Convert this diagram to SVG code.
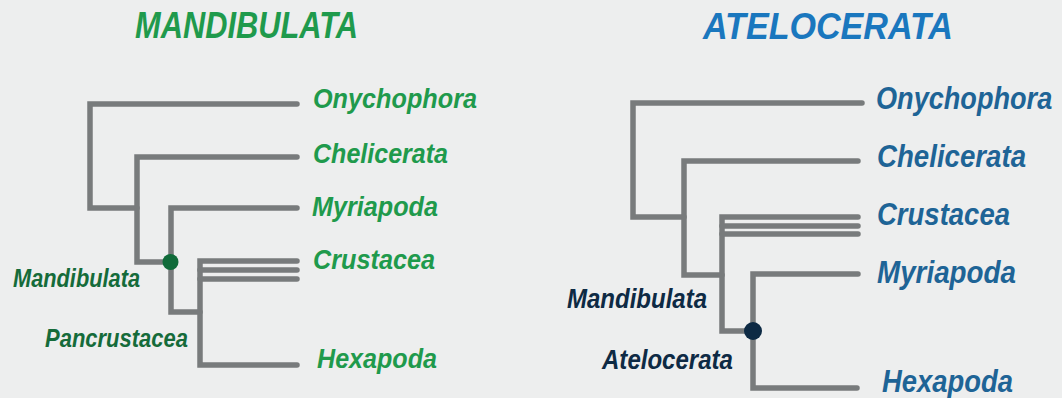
<svg xmlns="http://www.w3.org/2000/svg" width="1062" height="398" viewBox="0 0 1062 398">
<style>
text{font-family:"Liberation Sans",Arial,sans-serif;font-weight:bold;font-style:italic}
.br{fill:none;stroke:#787b7c;stroke-width:5.5;stroke-linecap:round;stroke-linejoin:miter}
.tg{fill:#1f9a4c;font-size:28px}
.tb{fill:#1e6496;font-size:31px}
.ng{fill:#156b3a;font-size:26px}
.nb{fill:#0e2a44;font-size:27px}
</style>
<rect width="1062" height="398" fill="#edeeee"/>
<text x="135" y="38" fill="#1f9a4c" font-size="36" textLength="223" lengthAdjust="spacingAndGlyphs">MANDIBULATA</text>
<text x="703" y="39" fill="#1a77be" font-size="37" textLength="250" lengthAdjust="spacingAndGlyphs">ATELOCERATA</text>
<g id="connectors">
<path class="br" d="M297,104 H90 V208 H137"/>
<path class="br" d="M297,157 H137 V262 H171"/>
<path class="br" d="M297,208 H171 V312 H200"/>
<path class="br" d="M297,261 H200 V365 H297"/>
<path class="br" d="M200,270 H297 M200,279 H297"/>
<path class="br" d="M862,103 H633 V217 H684"/>
<path class="br" d="M858,161 H684 V275 H722"/>
<path class="br" d="M858,217 H722 V331 H753"/>
<path class="br" d="M722,226 H858 M722,234 H858"/>
<path class="br" d="M858,274 H753 V388 H857"/>
</g>
<g id="node-mandibulata-left"><circle cx="170.5" cy="262" r="8" fill="#106b3a"/><text class="ng" x="13" y="287" textLength="127" lengthAdjust="spacingAndGlyphs">Mandibulata</text></g>
<g id="node-pancrustacea"><text class="ng" x="45" y="347" textLength="143" lengthAdjust="spacingAndGlyphs">Pancrustacea</text></g>
<g id="leaf-onychophora-l"><text class="tg" x="313" y="108" textLength="164" lengthAdjust="spacingAndGlyphs">Onychophora</text></g>
<g id="leaf-chelicerata-l"><text class="tg" x="313" y="163" textLength="135" lengthAdjust="spacingAndGlyphs">Chelicerata</text></g>
<g id="leaf-myriapoda-l"><text class="tg" x="312" y="216" textLength="126" lengthAdjust="spacingAndGlyphs">Myriapoda</text></g>
<g id="leaf-crustacea-l"><text class="tg" x="313" y="269" textLength="122" lengthAdjust="spacingAndGlyphs">Crustacea</text></g>
<g id="leaf-hexapoda-l"><text class="tg" x="317" y="368" textLength="120" lengthAdjust="spacingAndGlyphs">Hexapoda</text></g>
<g id="node-mandibulata-right"><text class="nb" x="567" y="308" textLength="140" lengthAdjust="spacingAndGlyphs">Mandibulata</text></g>
<g id="node-atelocerata"><circle cx="753" cy="331" r="9" fill="#0d2a44"/><text class="nb" x="602" y="369" textLength="131" lengthAdjust="spacingAndGlyphs">Atelocerata</text></g>
<g id="leaf-onychophora-r"><text class="tb" transform="translate(876,109) scale(0.875,1)">Onychophora</text></g>
<g id="leaf-chelicerata-r"><text class="tb" x="877" y="167" textLength="149" lengthAdjust="spacingAndGlyphs">Chelicerata</text></g>
<g id="leaf-crustacea-r"><text class="tb" x="877" y="225" textLength="133" lengthAdjust="spacingAndGlyphs">Crustacea</text></g>
<g id="leaf-myriapoda-r"><text class="tb" x="877" y="283" textLength="139" lengthAdjust="spacingAndGlyphs">Myriapoda</text></g>
<g id="leaf-hexapoda-r"><text class="tb" x="882" y="392" textLength="131" lengthAdjust="spacingAndGlyphs">Hexapoda</text></g>
</svg>
